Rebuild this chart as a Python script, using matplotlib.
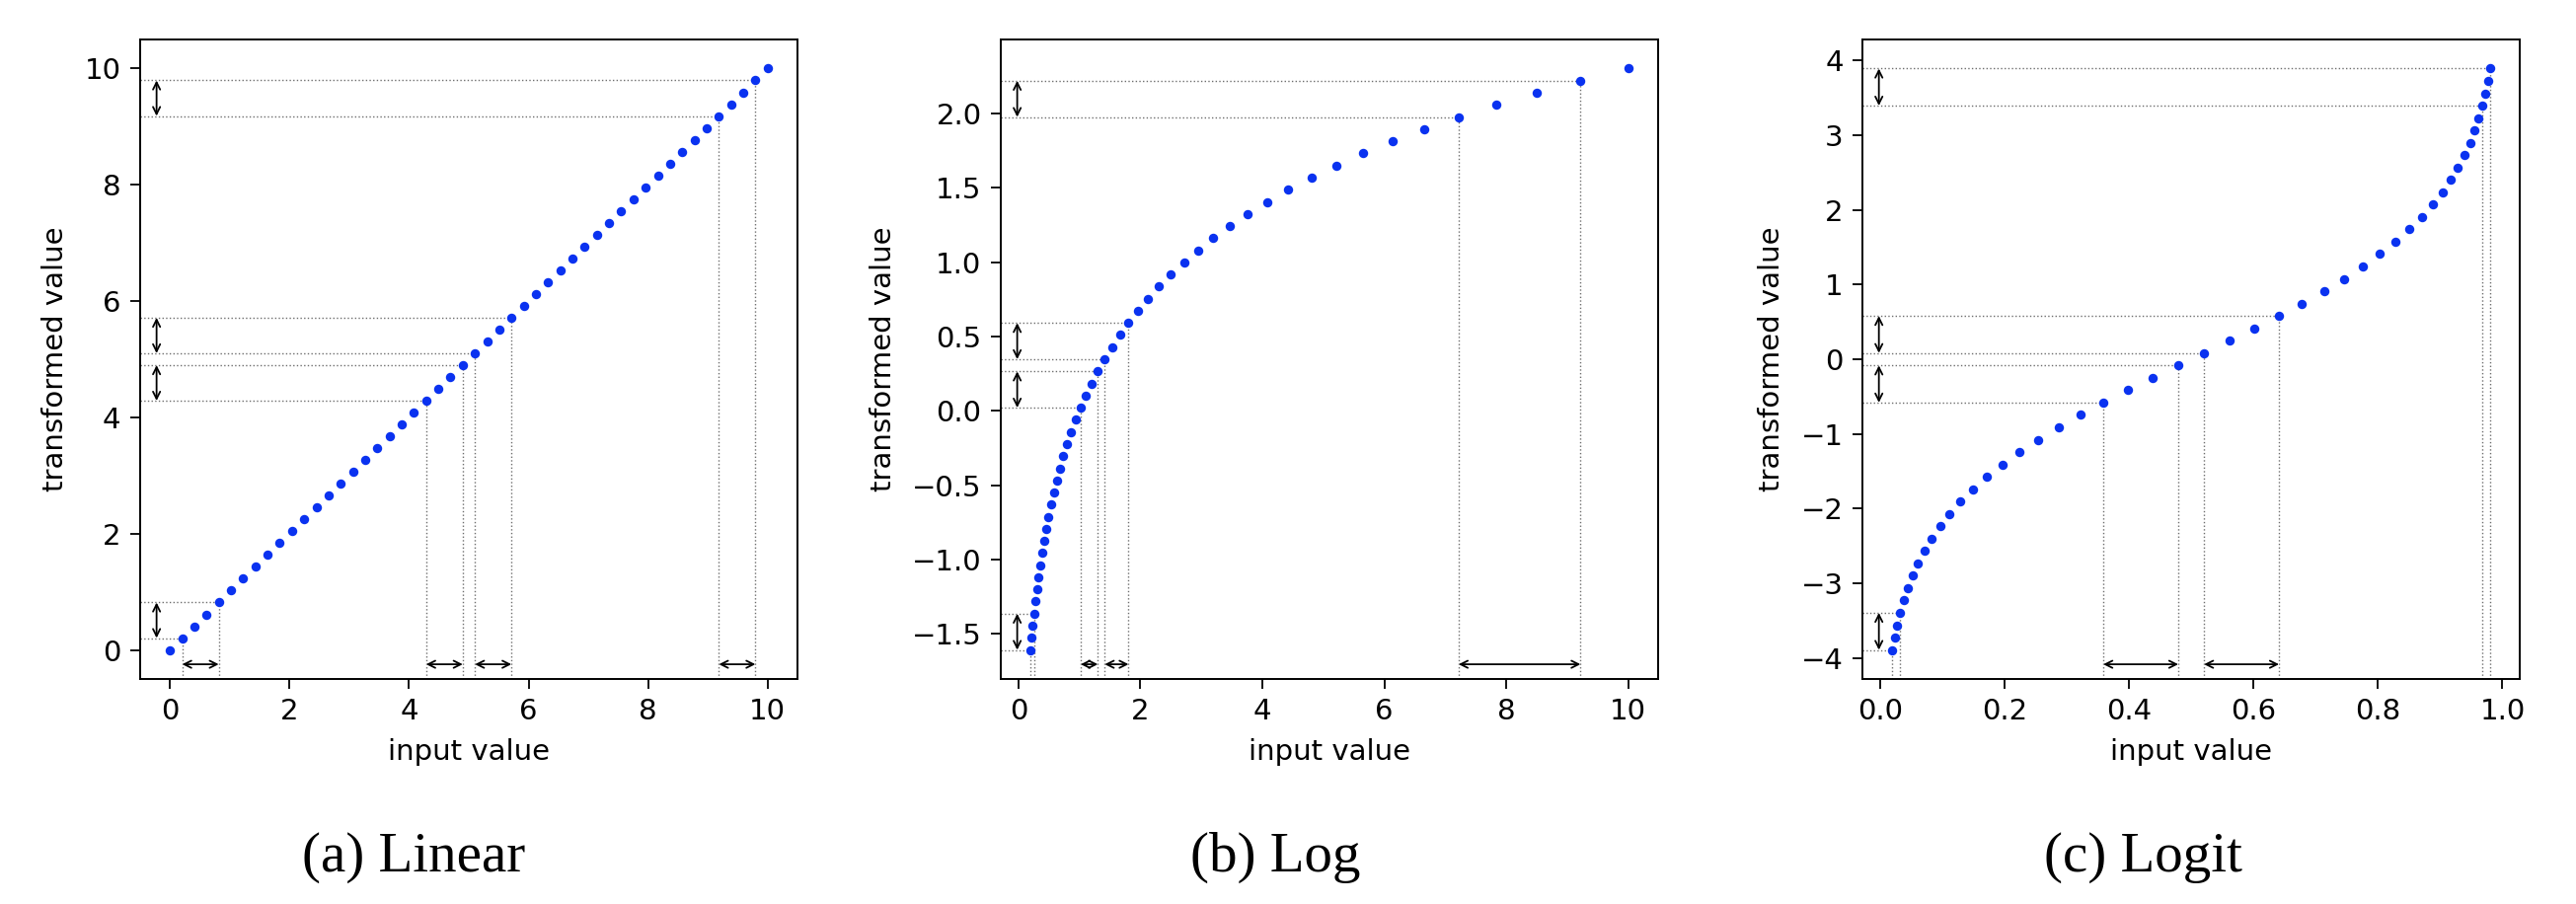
import matplotlib.pyplot as plt

# (a) linear transform: 50 evenly spaced inputs
lin_x = [0.0, 0.204, 0.408, 0.612, 0.816, 1.020, 1.224, 1.429, 1.633, 1.837,
         2.041, 2.245, 2.449, 2.653, 2.857, 3.061, 3.265, 3.469, 3.673, 3.878,
         4.082, 4.286, 4.490, 4.694, 4.898, 5.102, 5.306, 5.510, 5.714, 5.918,
         6.122, 6.327, 6.531, 6.735, 6.939, 7.143, 7.347, 7.551, 7.755, 7.959,
         8.163, 8.367, 8.571, 8.776, 8.980, 9.184, 9.388, 9.592, 9.796, 10.0]
lin_y = [0.0, 0.204, 0.408, 0.612, 0.816, 1.020, 1.224, 1.429, 1.633, 1.837,
         2.041, 2.245, 2.449, 2.653, 2.857, 3.061, 3.265, 3.469, 3.673, 3.878,
         4.082, 4.286, 4.490, 4.694, 4.898, 5.102, 5.306, 5.510, 5.714, 5.918,
         6.122, 6.327, 6.531, 6.735, 6.939, 7.143, 7.347, 7.551, 7.755, 7.959,
         8.163, 8.367, 8.571, 8.776, 8.980, 9.184, 9.388, 9.592, 9.796, 10.0]
lin_pairs = [(1, 4), (21, 24), (25, 28), (45, 48)]

# (b) log transform
log_x = [0.200, 0.217, 0.235, 0.255, 0.277, 0.301, 0.326, 0.354, 0.384, 0.417,
         0.452, 0.490, 0.532, 0.577, 0.626, 0.679, 0.737, 0.799, 0.867, 0.941,
         1.021, 1.107, 1.201, 1.303, 1.414, 1.534, 1.665, 1.806, 1.959, 2.126,
         2.306, 2.502, 2.714, 2.945, 3.195, 3.466, 3.761, 4.080, 4.426, 4.802,
         5.210, 5.652, 6.132, 6.653, 7.218, 7.831, 8.496, 9.217, 10.0]
log_y = [-1.609, -1.528, -1.446, -1.365, -1.283, -1.202, -1.120, -1.039, -0.957, -0.876,
         -0.794, -0.713, -0.631, -0.550, -0.468, -0.387, -0.305, -0.224, -0.142, -0.061,
         0.021, 0.102, 0.184, 0.265, 0.347, 0.428, 0.510, 0.591, 0.673, 0.754,
         0.836, 0.917, 0.999, 1.080, 1.162, 1.243, 1.325, 1.406, 1.488, 1.569,
         1.651, 1.732, 1.814, 1.895, 1.977, 2.058, 2.140, 2.221, 2.303]
log_pairs = [(0, 3), (20, 23), (24, 27), (44, 47)]

# (c) logit transform
logit_x = [0.0200, 0.0235, 0.0276, 0.0325, 0.0381, 0.0446, 0.0523, 0.0611, 0.0713, 0.0830,
           0.0966, 0.1120, 0.1295, 0.1494, 0.1718, 0.1965, 0.2241, 0.2541, 0.2868, 0.3219,
           0.3589, 0.3979, 0.4383, 0.4793, 0.5207, 0.5617, 0.6021, 0.6411, 0.6781, 0.7132,
           0.7459, 0.7759, 0.8035, 0.8282, 0.8506, 0.8705, 0.8880, 0.9034, 0.9170, 0.9287,
           0.9390, 0.9478, 0.9554, 0.9620, 0.9676, 0.9724, 0.9765, 0.9800]
logit_y = [-3.892, -3.726, -3.561, -3.395, -3.230, -3.064, -2.898, -2.733, -2.567, -2.402,
           -2.236, -2.070, -1.905, -1.739, -1.573, -1.408, -1.242, -1.077, -0.911, -0.745,
           -0.580, -0.414, -0.248, -0.083, 0.083, 0.248, 0.414, 0.580, 0.745, 0.911,
           1.077, 1.242, 1.408, 1.573, 1.739, 1.905, 2.070, 2.236, 2.402, 2.567,
           2.733, 2.898, 3.064, 3.230, 3.395, 3.561, 3.726, 3.892]
logit_pairs = [(0, 3), (20, 23), (24, 27), (44, 47)]

captions = ['(a) Linear', '(b) Log', '(c) Logit']
caption_x = [0.1605, 0.4950, 0.8320]

BLUE = '#0a32f0'
GUIDE = '#6e6e6e'
FS = 21


def draw_panel(ax, x, y, pairs):
    ax.plot(x, y, 'o', color=BLUE, ms=6.8, mew=0, zorder=3)
    x0, x1 = ax.get_xlim()
    y0, y1 = ax.get_ylim()
    ax.set_xlim(x0, x1)
    ax.set_ylim(y0, y1)
    arrow = dict(arrowstyle='<->', color='k', lw=1.3, shrinkA=0, shrinkB=0,
                 mutation_scale=13)
    for i, j in pairs:
        for k in (i, j):
            ax.plot([x0, x[k]], [y[k], y[k]], ls=':', color=GUIDE, lw=1.0, zorder=1)
            ax.plot([x[k], x[k]], [y0, y[k]], ls=':', color=GUIDE, lw=1.0, zorder=1)
        # 세로 화살표 (y 구간)
        ax.annotate('', xy=(0.025, y[i]), xytext=(0.025, y[j]),
                    xycoords=ax.get_yaxis_transform(), arrowprops=arrow)
        # 가로 화살표 (x 구간) - 너무 좁으면 생략
        if (x[j] - x[i]) / (x1 - x0) > 0.02:
            ax.annotate('', xy=(x[i], 0.023), xytext=(x[j], 0.023),
                        xycoords=ax.get_xaxis_transform(), arrowprops=arrow)
    ax.set_xlabel('input value', fontsize=FS, labelpad=9)
    ax.set_ylabel('transformed value', fontsize=FS, labelpad=11)
    ax.tick_params(labelsize=FS, length=7, width=1.3, pad=7)
    for s in ax.spines.values():
        s.set_linewidth(1.4)


fig = plt.figure(figsize=(26.1, 9.16), dpi=100)

lefts = [0.0544, 0.3885, 0.7230]
data = [(lin_x, lin_y, lin_pairs), (log_x, log_y, log_pairs),
        (logit_x, logit_y, logit_pairs)]

for left, (x, y, pairs), cap, cx in zip(lefts, data, captions, caption_x):
    ax = fig.add_axes([left, 0.2489, 0.2552, 0.7074])
    draw_panel(ax, x, y, pairs)
    fig.text(cx, 0.036, cap, ha='center', va='baseline',
             fontsize=41, family='Liberation Serif')

fig.savefig('out.png', dpi=100)
